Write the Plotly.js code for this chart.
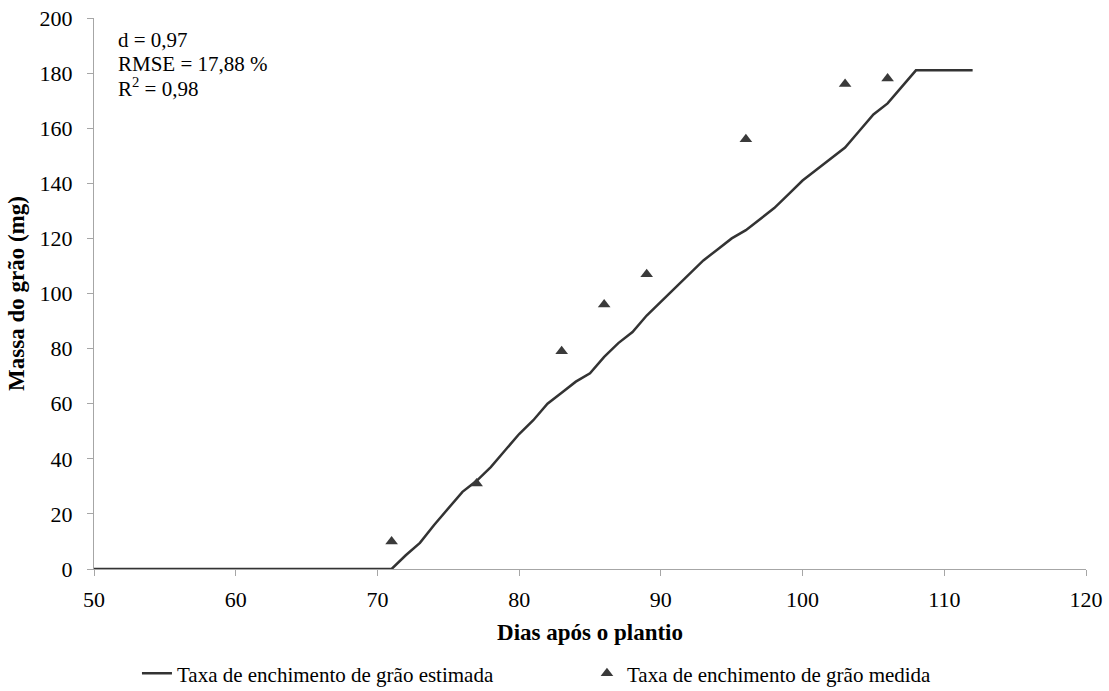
<!DOCTYPE html>
<html>
<head>
<meta charset="utf-8">
<script src="https://cdn.plot.ly/plotly-3.0.1.min.js"></script>
<style>html,body{margin:0;padding:0;background:#fff;}#chart{width:1109px;height:691px;}</style>
</head>
<body>
<div id="chart"></div>
<script>
var estDays = [50, 71, 72, 73, 74, 75, 76, 77, 78, 79, 80, 81, 82, 83, 84, 85, 86, 87, 88, 89, 90, 91, 92, 93, 94, 95, 96, 97, 98, 99, 100, 101, 102, 103, 104, 105, 106, 107, 108, 112];
var estMass = [0, 0, 5, 9.5, 16, 22, 28, 32, 37, 43, 49, 54, 60, 64, 68, 71, 77, 82, 86, 92, 97, 102, 107, 112, 116, 120, 123, 127, 131, 136, 141, 145, 149, 153, 159, 165, 169, 175, 181, 181];
var obsDays = [71, 77, 83, 86, 89, 96, 103, 106];
var obsMass = [10, 31, 79, 96, 107, 156, 176, 178];
var xTicks = [50, 60, 70, 80, 90, 100, 110, 120];
var yTicks = [0, 20, 40, 60, 80, 100, 120, 140, 160, 180, 200];
var statsLines = ["d = 0,97", "RMSE = 17,88 %", "R<sup>2</sup> = 0,98"];
var seriesNames = ["Taxa de enchimento de grão estimada", "Taxa de enchimento de grão medida"];

var font = "Liberation Serif";
var traces = [
  {x: estDays, y: estMass, type: "scatter", mode: "lines", name: seriesNames[0],
   line: {color: "#333333", width: 2.5}},
  {x: obsDays, y: obsMass, type: "scatter", mode: "markers", name: seriesNames[1],
   marker: {symbol: "triangle-up", size: 11, color: "#3a3a3a"}}
];
var statsY = [0.960, 0.9165, 0.873];
var annotations = statsLines.map(function (t, i) {
  return {xref: "paper", yref: "paper", x: 0.022, y: statsY[i], xanchor: "left", yanchor: "middle",
          align: "left", showarrow: false, text: t, font: {family: font, size: 21, color: "#000"}};
});
var layout = {
  width: 1109, height: 691,
  margin: {l: 94, r: 23, t: 18, b: 122, autoexpand: false},
  paper_bgcolor: "#fff", plot_bgcolor: "#fff",
  font: {family: font, size: 21, color: "#000"},
  showlegend: true,
  legend: {orientation: "h", x: 0.0433, xanchor: "left", y: -0.19, yanchor: "middle",
           font: {family: font, size: 21, color: "#000"},
           entrywidth: 405, entrywidthmode: "pixels", itemwidth: 30},
  xaxis: {range: [50, 120], tickvals: xTicks, ticktext: xTicks.map(String),
          showgrid: false, zeroline: false, showline: true, linecolor: "#a6a6a6", linewidth: 1,
          ticks: "outside", ticklen: 6, tickcolor: "#a6a6a6", ticklabelstandoff: 5,
          tickfont: {family: font, size: 22},
          title: {text: "<b>Dias após o plantio</b>", font: {family: font, size: 23}, standoff: 12}},
  yaxis: {range: [0, 200], tickvals: yTicks, ticktext: yTicks.map(String),
          showgrid: false, zeroline: false, showline: true, linecolor: "#a6a6a6", linewidth: 1,
          ticks: "outside", ticklen: 6, tickcolor: "#a6a6a6", ticklabelstandoff: 10,
          tickfont: {family: font, size: 22},
          title: {text: "<b>Massa do grão (mg)</b>", font: {family: font, size: 23}, standoff: 8}},
  annotations: annotations
};
Plotly.newPlot("chart", traces, layout, {displayModeBar: false, staticPlot: true});
</script>
</body>
</html>
